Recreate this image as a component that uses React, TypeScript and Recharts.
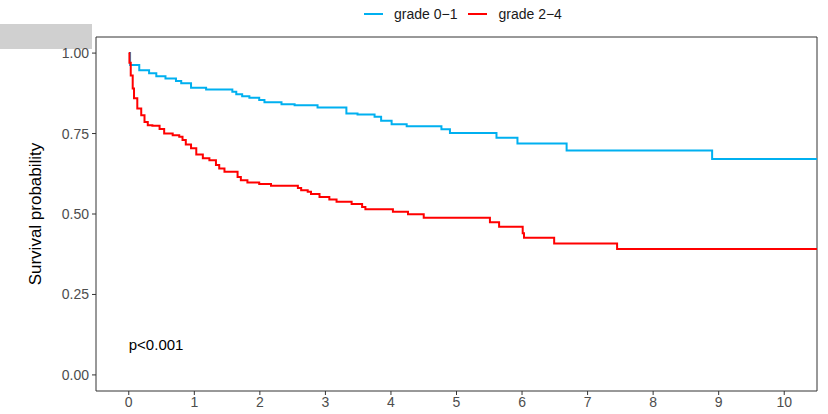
import React from 'react';
import { LineChart, Line, XAxis, YAxis, ReferenceArea, ReferenceDot } from 'recharts';

// grade 0−1 survival steps
const timeLow = [0, 0.02, 0.16, 0.31, 0.42, 0.56, 0.72, 0.8, 0.95, 1.18, 1.58, 1.64, 1.73, 1.84, 1.99, 2.07, 2.33, 2.53, 2.88, 3.32, 3.49, 3.75, 3.85, 4.01, 4.24, 4.77, 4.9, 5.61, 5.93, 6.68, 8.9, 10.5];
const survLow = [1.0, 0.963, 0.947, 0.937, 0.928, 0.921, 0.913, 0.906, 0.892, 0.887, 0.88, 0.872, 0.866, 0.861, 0.854, 0.847, 0.841, 0.838, 0.831, 0.812, 0.809, 0.802, 0.79, 0.779, 0.773, 0.763, 0.752, 0.737, 0.719, 0.697, 0.671, 0.671];

// grade 2−4 survival steps
const timeHigh = [0, 0.01, 0.03, 0.06, 0.08, 0.13, 0.19, 0.24, 0.29, 0.36, 0.47, 0.54, 0.67, 0.77, 0.82, 0.87, 0.95, 1.03, 1.13, 1.23, 1.33, 1.38, 1.46, 1.66, 1.71, 1.81, 1.99, 2.17, 2.58, 2.63, 2.73, 2.78, 2.91, 3.06, 3.17, 3.4, 3.56, 3.61, 4.03, 4.26, 4.5, 5.51, 5.65, 6.01, 6.03, 6.49, 7.45, 10.5];
const survHigh = [1.0, 0.97, 0.93, 0.89, 0.86, 0.828, 0.807, 0.786, 0.776, 0.774, 0.764, 0.75, 0.745, 0.74, 0.73, 0.716, 0.704, 0.685, 0.673, 0.667, 0.652, 0.641, 0.631, 0.615, 0.605, 0.598, 0.593, 0.588, 0.581, 0.574, 0.569, 0.562, 0.553, 0.545, 0.538, 0.531, 0.522, 0.515, 0.507, 0.499, 0.488, 0.474, 0.46, 0.44, 0.426, 0.408, 0.391, 0.391];

const xTicks = [0, 1, 2, 3, 4, 5, 6, 7, 8, 9, 10];
const yTicks = [0, 0.25, 0.5, 0.75, 1];
const seriesNames = ['grade 0\u22121', 'grade 2\u22124'];
const seriesColors = ['#00B0F0', '#FF0000'];
const pValueText = 'p<0.001';

const lowData = timeLow.map((t, i) => ({ t, s: survLow[i] }));
const highData = timeHigh.map((t, i) => ({ t, s: survHigh[i] }));

const FONT = '"Liberation Sans", Arial, Helvetica, sans-serif';

export default function App() {
  return (
    <div style={{ position: 'absolute', left: 0, top: 0, width: 828, height: 414, background: '#fff', fontFamily: FONT }}>
      <div style={{ position: 'absolute', left: 0, top: 24, width: 92, height: 25, background: '#d0d0d0' }} />
      <div style={{ position: 'absolute', left: 364, top: 0, height: 28, display: 'flex', alignItems: 'center', fontSize: 14, color: '#1a1a1a', whiteSpace: 'nowrap' }}>
        {seriesNames.map((n, i) => (
          <div key={n} style={{ display: 'flex', alignItems: 'center', marginRight: i === 0 ? 11 : 0 }}>
            <div style={{ width: 19, height: 2, background: seriesColors[i], marginRight: 11 }} />
            <span>{n}</span>
          </div>
        ))}
      </div>
      <LineChart width={828} height={414} margin={{ top: 37, right: 11, bottom: 0, left: 0 }} style={{ position: 'absolute', left: 0, top: 0 }}>
        <XAxis
          type="number"
          dataKey="t"
          domain={[-0.5, 10.5]}
          ticks={xTicks}
          allowDataOverflow
          height={23}
          tickSize={4}
          tickMargin={2}
          axisLine={false}
          tickLine={{ stroke: '#333' }}
          tick={{ fill: '#4d4d4d', fontSize: 14, fontFamily: FONT }}
        />
        <YAxis
          type="number"
          dataKey="s"
          domain={[-0.05, 1.05]}
          ticks={yTicks}
          allowDataOverflow
          width={96}
          tickSize={4}
          tickMargin={3}
          axisLine={false}
          tickLine={{ stroke: '#333' }}
          tickFormatter={(v: number) => v.toFixed(2)}
          tick={{ fill: '#4d4d4d', fontSize: 14, fontFamily: FONT }}
          label={{
            content: (props: any) => {
              const vb = props.viewBox || { y: 37, height: 354 };
              const cy = vb.y + vb.height / 2;
              return (
                <text x={35} y={cy} transform={`rotate(-90, 35, ${cy})`} textAnchor="middle" dominantBaseline="central" fontSize={17} fill="#000" fontFamily={FONT}>
                  Survival probability
                </text>
              );
            },
          }}
        />
        <ReferenceArea x1={-0.5} x2={10.5} y1={-0.05} y2={1.05} fill="none" stroke="#333" strokeWidth={1} ifOverflow="visible" />
        <Line data={lowData} dataKey="s" type="stepAfter" stroke={seriesColors[0]} strokeWidth={2} dot={false} isAnimationActive={false} name={seriesNames[0]} />
        <Line data={highData} dataKey="s" type="stepAfter" stroke={seriesColors[1]} strokeWidth={2} dot={false} isAnimationActive={false} name={seriesNames[1]} />
        <ReferenceDot
          x={0}
          y={0.095}
          r={1}
          fill="none"
          stroke="none"
          label={{
            content: (props: any) => {
              const vb = props.viewBox || { x: 0, y: 0, width: 0, height: 0 };
              return (
                <text x={vb.x + vb.width / 2} y={vb.y + vb.height / 2} dominantBaseline="central" fontSize={15} fill="#000" fontFamily={FONT}>
                  {pValueText}
                </text>
              );
            },
          }}
        />
      </LineChart>
    </div>
  );
}
